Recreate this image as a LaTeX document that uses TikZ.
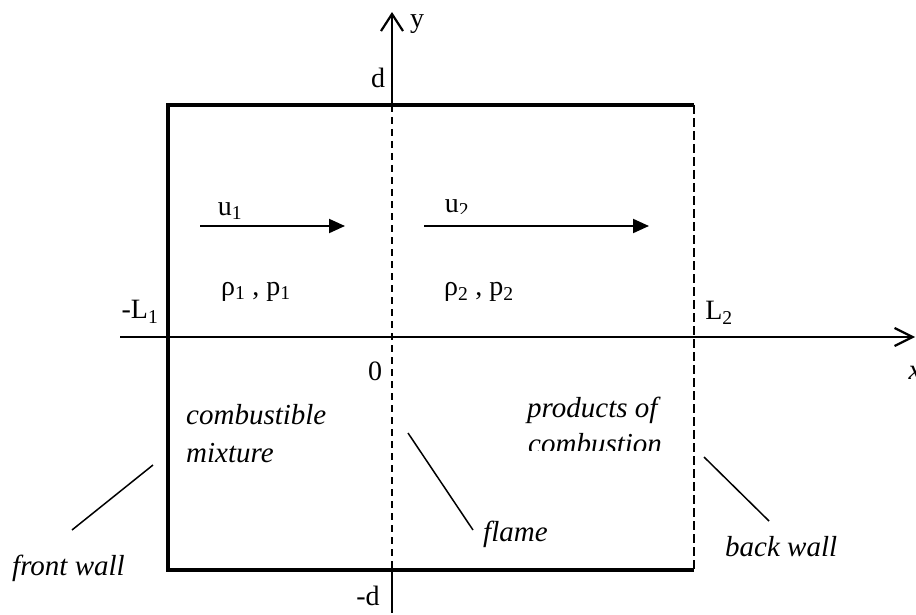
\documentclass[tikz,border=0pt]{standalone}
\usepackage{fontspec}
\setmainfont{Liberation Serif}
\usetikzlibrary{arrows.meta}
\begin{document}
\begin{tikzpicture}[x=1pt,y=-1pt,
  lbl/.style={inner sep=0pt, font=\fontsize{28}{30}\selectfont},
  ilbl/.style={inner sep=0pt, font=\fontsize{29}{31}\selectfont\itshape},
  wall/.style={line width=3.3pt, line join=miter},
  axisline/.style={line width=2.2pt},
  flamedash/.style={line width=1.8pt, dash pattern=on 7pt off 5pt},
  backdash/.style={line width=1.2pt, dash pattern=on 9pt off 4pt},
  flow/.style={line width=2pt, -{Triangle[length=16pt,width=14pt]}},
  leader/.style={line width=1.5pt}]
\useasboundingbox (0,0) rectangle (916,615);
% key points
\coordinate (ytop) at (392,12);
\coordinate (ybot) at (392,613);
\coordinate (xl) at (120,337);
\coordinate (xr) at (915,337);
\coordinate (TL) at (168,105);
\coordinate (TR) at (694,105);
\coordinate (BL) at (168,570);
\coordinate (BR) at (694,570);
\coordinate (Ft) at (392,105);
\coordinate (Fb) at (392,570);
% walls
\draw[wall] (TR) -- (TL) -- (BL) -- (BR);
\draw[backdash] (TR) -- (BR);
% axes
\draw[axisline, -{Straight Barb[length=17pt,width=22pt,line width=2.2pt]}] (Ft) -- (ytop);
\draw[axisline] (Fb) -- (ybot);
\draw[flamedash] (Ft) -- (Fb);
\draw[axisline, -{Straight Barb[length=18pt,width=18pt,line width=2.2pt]}] (xl) -- (xr);
% axis labels
\node[lbl] (ylab) at (417,24) {y};
\node[ilbl] (xlab) at (915,373) {x};
\node[lbl] (dlab) at (378,78) {d};
\node[lbl] (mdlab) at (368,596) {-d};
\node[lbl] (zero) at (375,371) {0};
\node[lbl] (mL1) at (140,312) {-L\textsubscript{1}};
\node[lbl] (L2) at (719,313) {L\textsubscript{2}};
% flow arrows
\coordinate (u1s) at (200,226);
\coordinate (u1e) at (345,226);
\coordinate (u2s) at (424,226);
\coordinate (u2e) at (649,226);
\draw[flow] (u1s) -- (u1e);
\draw[flow] (u2s) -- (u2e);
\node[lbl] (u1) at (230,211) {u\textsubscript{1}};
\begin{scope}
  \clip (420,180) rectangle (500,213);
  \node[lbl] (u2) at (457,208) {u\textsubscript{2}};
\end{scope}
\node[lbl] (rp1) at (256,292) {ρ\textsubscript{1} , p\textsubscript{1}};
\node[lbl] (rp2) at (479,292) {ρ\textsubscript{2} , p\textsubscript{2}};
% region labels
\node[ilbl, anchor=base west] (comb) at (186,424) {combustible};
\node[ilbl, anchor=base west] (mix) at (186,462) {mixture};
\node[ilbl, anchor=base west] (prod) at (527,417) {products of};
\begin{scope}
  \clip (500,420) rectangle (690,450);
  \node[ilbl, anchor=base west] (combu) at (528,453) {combustion};
\end{scope}
\node[ilbl, anchor=base west] (flame) at (483,541) {flame};
\node[ilbl, anchor=base west] (back) at (725,556) {back wall};
\node[ilbl, anchor=base west] (front) at (12,575) {front wall};
% leader lines
\coordinate (fw1) at (153,465);
\coordinate (fw2) at (72,530);
\coordinate (fl1) at (408,433);
\coordinate (fl2) at (473,530);
\coordinate (bw1) at (704,457);
\coordinate (bw2) at (769,521);
\draw[leader] (fw1) -- (fw2);
\draw[leader] (fl1) -- (fl2);
\draw[leader] (bw1) -- (bw2);
\end{tikzpicture}
\end{document}
